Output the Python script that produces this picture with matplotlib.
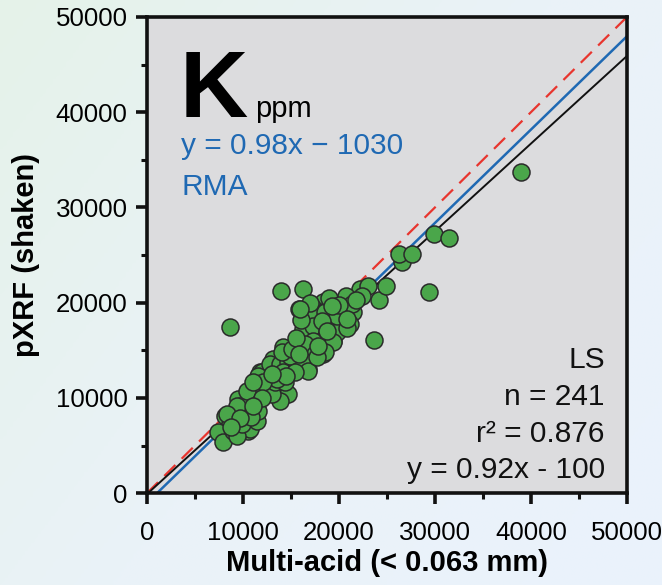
import numpy as np
import matplotlib
matplotlib.use("Agg")
import matplotlib.pyplot as plt
from matplotlib.colors import LinearSegmentedColormap

plt.rcParams['font.family'] = ['Liberation Sans', 'DejaVu Sans']

# ---- data ----
multi_acid = [8650, 14000, 16250, 29400, 23600, 24200, 24900, 22200, 23000, 22400,
              26600, 26300, 27600, 29900, 31500, 39000, 18330, 19270, 21250, 20420,
              21460, 20730, 15830, 16560, 17290, 18330, 16670, 16250, 17290, 18540,
              19380, 18230, 16250, 15420, 18330, 16770, 16250, 14170, 14580, 13850,
              15210, 13130, 14170, 12810, 11770, 11250, 12500, 13650, 14690, 13850,
              12290, 11250, 10420, 9480, 10520, 11460, 8650, 8130, 8650, 9380,
              7400, 7920, 10520, 9690, 10730, 13130, 12810, 17500, 18540, 19580,
              20420, 21150, 16250, 17290, 18750, 19790, 19380, 17290, 16460, 17500,
              18540, 21350, 8960, 10000, 10730, 11460, 11560, 11460, 13020, 13330,
              14380, 10420, 11980, 12810, 13850, 14690, 14170, 15630, 16250, 16770,
              9380, 8330, 9380, 9900, 14900, 14060, 17710, 11560, 13540, 12080,
              11040, 15420, 15100, 19790, 18230, 15500, 16000, 17000, 19000, 20000,
              21800, 20800, 17800, 15800, 14500, 13000, 12000, 10800, 9700, 8800,
              11000, 15940, 19270, 20830, 18750]
pxrf_shaken = [17400, 21200, 21400, 21100, 16100, 20300, 21700, 21400, 21700, 20700,
               24300, 25100, 25100, 27200, 26800, 33700, 20060, 20060, 19850, 19330,
               19010, 20690, 19330, 19330, 19430, 19010, 17750, 16700, 16180, 17020,
               15970, 15970, 15650, 15340, 14600, 13030, 14080, 15340, 14390, 14080,
               13760, 13030, 13030, 13340, 12710, 11340, 11970, 11660, 10400, 9660,
               10610, 10190, 10400, 9870, 8300, 8820, 7980, 8090, 7250, 6410,
               6410, 5360, 6510, 9140, 9560, 14080, 12290, 18590, 19010, 18590,
               18280, 17750, 17230, 17540, 16910, 16910, 15860, 15970, 15650, 14600,
               14810, 19850, 6510, 6720, 6720, 7560, 8610, 10610, 10400, 11660,
               11660, 10710, 12710, 13550, 13550, 13760, 12710, 13340, 13870, 12820,
               9140, 8300, 5990, 7250, 14390, 14810, 14290, 12290, 11970, 11660,
               11660, 12710, 15130, 18590, 18070, 16300, 18200, 20000, 20500, 19800,
               20300, 17300, 15400, 14600, 12300, 12500, 10000, 8000, 7900, 6900,
               9200, 19330, 19640, 18280, 17020]

rma_slope, rma_intercept = 0.98, -1030
ls_slope, ls_intercept = 0.92, -100
axis_max = 50000
major_ticks = [0, 10000, 20000, 30000, 40000, 50000]
minor_ticks = [5000, 15000, 25000, 35000, 45000]

fig = plt.figure(figsize=(6.62, 5.85), dpi=100)

# gradient background
bg = fig.add_axes([0, 0, 1, 1], zorder=-10)
cmap = LinearSegmentedColormap.from_list('bg', ['#E5F2E9', '#EAF3F8', '#EAF2FC'])
gx, gy = np.meshgrid(np.linspace(0, 1, 200), np.linspace(0, 1, 200))
bg.imshow((gx * 0.6 + gy * 0.4), cmap=cmap, aspect='auto', extent=[0, 1, 0, 1])
bg.axis('off')

ax = fig.add_axes([0.222, 0.157, 0.725, 0.814])
ax.set_facecolor('#DCDCDE')

ax.set_xlim(0, axis_max)
ax.set_ylim(0, axis_max)

xx = np.array([0, axis_max])
ax.plot(xx, xx, color='#E8352E', lw=1.6, dashes=(7, 4), zorder=2)
x0 = -rma_intercept / rma_slope
ax.plot([x0, axis_max], [0, rma_slope * axis_max + rma_intercept], color='#1F69B3', lw=1.8, zorder=2)
ax.plot([-ls_intercept / ls_slope, axis_max], [0, ls_slope * axis_max + ls_intercept], color='#111111', lw=1.4, zorder=2)

ax.scatter(multi_acid, pxrf_shaken, s=150, facecolor='#4AA64A', edgecolor='#2A2A2A', linewidth=1.1, zorder=3)

for s in ax.spines.values():
    s.set_linewidth(2.6)
    s.set_color('#111111')

ax.set_xticks(major_ticks)
ax.set_yticks(major_ticks)
ax.set_xticks(minor_ticks, minor=True)
ax.set_yticks(minor_ticks, minor=True)
ax.tick_params(which='major', direction='out', length=8, width=2.6, labelsize=18.6, color='#111111')
ax.tick_params(which='minor', direction='out', length=4.5, width=2.2, color='#111111')
ax.tick_params(axis='x', which='major', pad=12)
ax.tick_params(axis='y', which='major', pad=6)
ax.tick_params(top=False, right=False)

ax.set_xlabel('Multi-acid (< 0.063 mm)', fontsize=21, fontweight='bold', labelpad=3)
ax.set_ylabel('pXRF (shaken)', fontsize=21, fontweight='bold', labelpad=11)

ax.text(0.069, 0.79, 'K', transform=ax.transAxes, fontsize=68, fontweight='bold', va='baseline', ha='left')
ax.text(0.225, 0.79, 'ppm', transform=ax.transAxes, fontsize=21, va='baseline', ha='left')
ax.text(0.071, 0.712, 'y = 0.98x \u2212 1030', transform=ax.transAxes, fontsize=21.5, color='#1F69B3', va='baseline', ha='left')
ax.text(0.071, 0.626, 'RMA', transform=ax.transAxes, fontsize=21.5, color='#1F69B3', va='baseline', ha='left')

ls_lines = ['LS', 'n = 241', 'r\u00b2 = 0.876', 'y = 0.92x - 100']
ls_y = [0.263, 0.185, 0.107, 0.0315]
for t, yy in zip(ls_lines, ls_y):
    ax.text(0.954, yy, t, transform=ax.transAxes, fontsize=21.5, color='#111111', va='baseline', ha='right')

fig.savefig('out.png', dpi=100)
